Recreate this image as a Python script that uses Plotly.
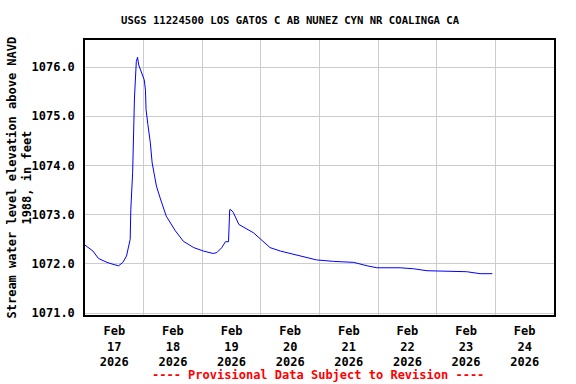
import plotly.graph_objects as go

times = [
    "2026-02-17 00:00", "2026-02-17 03:15", "2026-02-17 05:30", "2026-02-17 09:00",
    "2026-02-17 11:30", "2026-02-17 13:45", "2026-02-17 15:30", "2026-02-17 17:00",
    "2026-02-17 18:30", "2026-02-17 18:45", "2026-02-17 19:30", "2026-02-17 19:45",
    "2026-02-17 20:15", "2026-02-17 21:00", "2026-02-17 21:30", "2026-02-17 22:00",
    "2026-02-17 23:15", "2026-02-18 00:15", "2026-02-18 00:45", "2026-02-18 01:00",
    "2026-02-18 01:45", "2026-02-18 02:45", "2026-02-18 03:30", "2026-02-18 05:15",
    "2026-02-18 06:45", "2026-02-18 09:15", "2026-02-18 13:00", "2026-02-18 16:15",
    "2026-02-18 20:30", "2026-02-19 00:30", "2026-02-19 04:30", "2026-02-19 06:00",
    "2026-02-19 08:00", "2026-02-19 09:30", "2026-02-19 10:45", "2026-02-19 11:00",
    "2026-02-19 11:15", "2026-02-19 11:45", "2026-02-19 12:45", "2026-02-19 15:00",
    "2026-02-19 17:30", "2026-02-19 21:00", "2026-02-19 23:15", "2026-02-20 01:15",
    "2026-02-20 03:45", "2026-02-20 08:00", "2026-02-20 12:00", "2026-02-20 17:30",
    "2026-02-20 22:45", "2026-02-21 05:45", "2026-02-21 14:00", "2026-02-21 19:30",
    "2026-02-21 23:30", "2026-02-22 09:00", "2026-02-22 14:30", "2026-02-22 20:00",
    "2026-02-23 05:30", "2026-02-23 12:15", "2026-02-23 17:45", "2026-02-23 22:45",
]
levels = [
    1072.38, 1072.26, 1072.11, 1072.03,
    1071.99, 1071.96, 1072.03, 1072.16,
    1072.50, 1073.10, 1073.85, 1074.69,
    1075.37, 1076.11, 1076.20, 1076.04,
    1075.87, 1075.74, 1075.53, 1075.13,
    1074.83, 1074.46, 1074.05, 1073.58,
    1073.34, 1072.97, 1072.67, 1072.46,
    1072.33, 1072.26, 1072.21, 1072.23,
    1072.33, 1072.45, 1072.45, 1072.73,
    1073.10, 1073.10, 1073.04, 1072.80,
    1072.73, 1072.63, 1072.53, 1072.44,
    1072.33, 1072.26, 1072.21, 1072.13,
    1072.08, 1072.05, 1072.03, 1071.96,
    1071.92, 1071.92, 1071.90, 1071.86,
    1071.84, 1071.84, 1071.80, 1071.80,
]
y_ticks = [1071.0, 1072.0, 1073.0, 1074.0, 1075.0, 1076.0]

FONT = "DejaVu Sans Mono"

fig = go.Figure()
fig.add_trace(go.Scatter(x=times, y=levels, mode="lines",
                         line=dict(color="#0000ff", width=1), showlegend=False))

fig.update_layout(
    width=576, height=384,
    paper_bgcolor="white", plot_bgcolor="white",
    margin=dict(l=85, r=22, t=40, b=69),
    font=dict(family=FONT, color="black", size=12),
)
fig.add_annotation(
    text="<b>USGS 11224500 LOS GATOS C AB NUNEZ CYN NR COALINGA CA</b>",
    xref="paper", yref="paper", x=(290 - 85) / 469, y=1 + 20 / 275,
    xanchor="center", yanchor="middle", showarrow=False,
    font=dict(family=FONT, size=10.6, color="black"),
)
fig.update_xaxes(
    type="date", range=["2026-02-17", "2026-02-25"],
    tick0="2026-02-17", dtick=86400000, ticklabelmode="period",
    tickformat="<b>%b</b><br><b>%d</b><br><b>%Y</b>",
    ticks="", showgrid=True, gridcolor="#cccccc", gridwidth=1,
    showline=True, linecolor="black", linewidth=1.5, mirror=True,
    tickfont=dict(family=FONT, size=12, color="black"),
    ticklabelstandoff=4, zeroline=False,
)
fig.update_yaxes(
    range=[1070.96, 1076.55], tickvals=y_ticks,
    ticktext=["<b>%.1f</b>" % v for v in y_ticks],
    ticks="", showgrid=True, gridcolor="#cccccc", gridwidth=1,
    showline=True, linecolor="black", linewidth=1.5, mirror=True,
    tickfont=dict(family=FONT, size=12, color="black"),
    ticklabelstandoff=6, zeroline=False,
)
fig.add_annotation(
    text="<b>Stream water level elevation above NAVD</b><br><b>1988, in feet</b>",
    xref="paper", yref="paper", x=0, y=0.5, xanchor="center", yanchor="middle",
    xshift=-66, textangle=-90, showarrow=False,
    font=dict(family=FONT, size=12, color="black"),
)
fig.add_annotation(
    text="<b>---- Provisional Data Subject to Revision ----</b>",
    xref="paper", yref="paper", x=0.497, y=-0.218, xanchor="center", yanchor="middle",
    showarrow=False, font=dict(family=FONT, size=12, color="red"),
)

fig.write_html("out.html", config={"displayModeBar": False},
               post_script="document.body.style.margin='0';")
